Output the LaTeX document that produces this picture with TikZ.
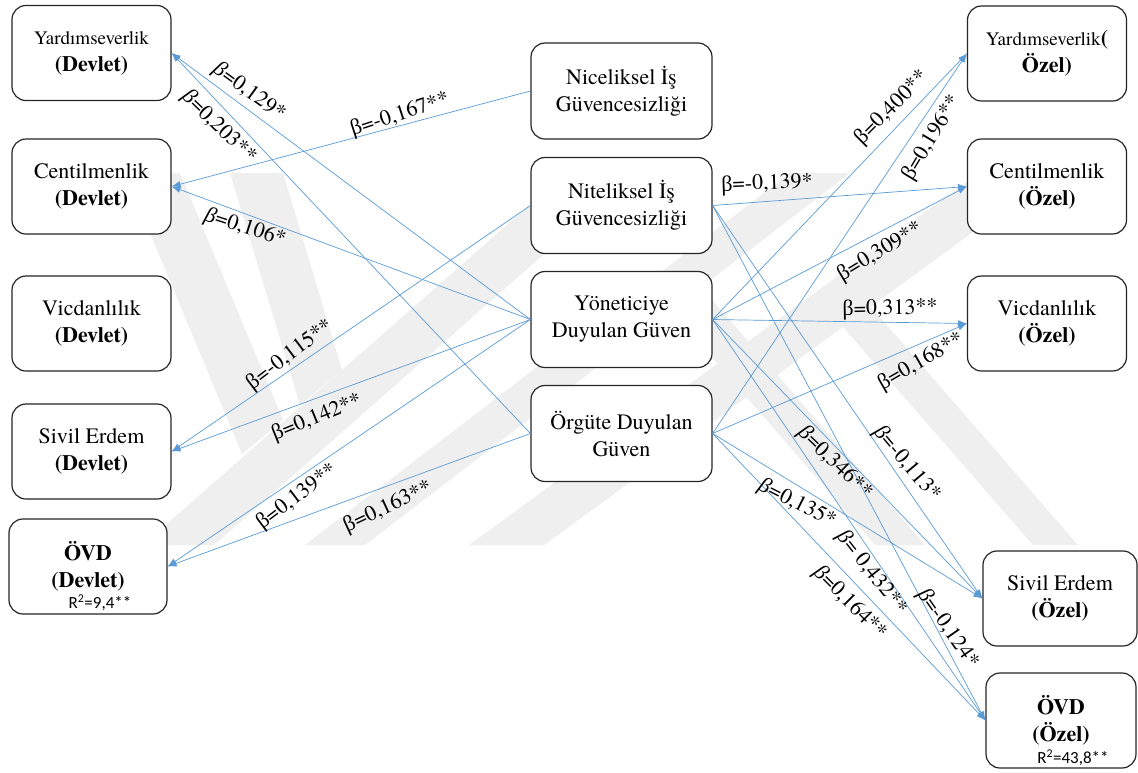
\documentclass[tikz,border=0pt]{standalone}
\usepackage{fontspec}
\setmainfont{TeX Gyre Termes}
\newfontfamily\grkfamily{Liberation Serif}
\newfontfamily\rsqfamily{Carlito}
\usetikzlibrary{arrows.meta}
\definecolor{linkblue}{RGB}{91,155,213}
\definecolor{wmgray}{RGB}{239,239,239}
\newcommand{\betaup}{{\grkfamily β}}
\newcommand{\betait}{{\grkfamily\itshape β}}
\begin{document}
\begin{tikzpicture}[x=1pt,y=-1pt,
  box/.style={draw=black!85, line width=1.2pt, rounded corners=14pt, fill=white,
    minimum width=159pt, minimum height=95pt, align=center, inner sep=0pt,
    font=\rmfamily\fontsize{22}{27}\selectfont},
  midbox/.style={box, minimum width=181pt, minimum height=96pt},
  link/.style={draw=linkblue, line width=0.7pt, -{Latex[length=9pt,width=6.5pt]}},
  coef/.style={font=\rmfamily\fontsize{22}{26}\selectfont, inner sep=0pt},
  rsq/.style={font=\rsqfamily\fontsize{17}{20}\selectfont, inner sep=0pt},
  wm/.style={fill=wmgray, draw=none}]

\useasboundingbox (0,0) rectangle (1138,772);
\fill[white] (0,0) rectangle (1138,772);

% faint background emblem
\fill[wm] (230,173) -- (283,173) -- (342,370) -- (300,405) -- cycle;
\fill[wm] (125,173) -- (180,173) -- (283,420) -- (242,454) -- cycle;
\fill[wm] (143,545) -- (214,545) -- (636,173) -- (566,173) -- cycle;
\fill[wm] (305,545) -- (365,545) -- (850,173) -- (790,173) -- cycle;
\fill[wm] (469,545) -- (544,545) -- (1054,173) -- (979,173) -- cycle;
\fill[wm] (843,327) -- (871,307) -- (1078,545) -- (1033,545) -- cycle;
\fill[wm] (671,310) -- (701,287) -- (925,545) -- (875,545) -- cycle;

% public sector outcomes
\node[box] (yardD) at (91.5,53) {{\fontsize{19}{23}\selectfont Yardımseverlik}\\\textbf{(Devlet)}};
\node[box] (centD) at (91.5,186.5) {Centilmenlik\\\textbf{(Devlet)}};
\node[box] (vicD) at (91.5,323.5) {Vicdanlılık\\\textbf{(Devlet)}};
\node[box] (sivD) at (91.5,451.5) {Sivil Erdem\\\textbf{(Devlet)}};
\node[box, minimum width=158pt] (ovdD) at (88,566.5) {\textbf{ÖVD}\\\textbf{(Devlet)}};
\node[rsq] (r2D) at (100,603) {R\textsuperscript{2}=9,4**};

% predictors
\node[midbox] (nicel) at (621.5,91) {Niceliksel İş\\Güvencesizliği};
\node[midbox] (nitel) at (621.5,205.5) {Niteliksel İş\\Güvencesizliği};
\node[midbox] (yon) at (621.5,319.5) {Yöneticiye\\Duyulan Güven};
\node[midbox] (org) at (621.5,433.5) {Örgüte Duyulan\\Güven};

% private sector outcomes
\node[box] (yardO) at (1047,53.5) {{\fontsize{19}{23}\selectfont Yardımseverlik}\textbf{(}\\\textbf{Özel)}};
\node[box] (centO) at (1047,186.5) {Centilmenlik\\\textbf{(Özel)}};
\node[box] (vicO) at (1047,323.5) {Vicdanlılık\\\textbf{(Özel)}};
\node[box, minimum width=154pt] (sivO) at (1060,598.5) {Sivil Erdem\\\textbf{(Özel)}};
\node[box, minimum width=150pt] (ovdO) at (1061,720.5) {\textbf{ÖVD}\\\textbf{(Özel)}};
\node[rsq] (r2O) at (1073,758) {R\textsuperscript{2}=43,8**};

% paths to the public sector
\draw[link] (yon.west) -- (yardD.east);
\draw[link] (org.west) -- (yardD.east);
\draw[link] (nicel.west) -- (centD.east);
\draw[link] (yon.west) -- (centD.east);
\draw[link] (nitel.west) -- (sivD.east);
\draw[link] (yon.west) -- (sivD.east);
\draw[link] (yon.west) -- (ovdD.east);
\draw[link] (org.west) -- (ovdD.east);

% paths to the private sector
\draw[link] (yon.east) -- (yardO.west);
\draw[link] (org.east) -- (yardO.west);
\draw[link] (nitel.east) -- (centO.west);
\draw[link] (yon.east) -- (centO.west);
\draw[link] (yon.east) -- (vicO.west);
\draw[link] (org.east) -- (vicO.west);
\draw[link] (nitel.east) -- (sivO.west);
\draw[link] (yon.east) -- (sivO.west);
\draw[link] (org.east) -- (sivO.west);
\draw[link] (nitel.east) -- (ovdO.west);
\draw[link] (yon.east) -- (ovdO.west);
\draw[link] (org.east) -- (ovdO.west);

% coefficients, public side
\node[coef, rotate=-36] (c1) at (249,92) {\betait=0,129*};
\node[coef, rotate=-44] (c2) at (219,127) {\betait=0,203**};
\node[coef, rotate=18] (c3) at (400,115) {\betaup=-0,167**};
\node[coef, rotate=-18] (c4) at (245,228) {\betait=0,106*};
\node[coef, rotate=37] (c5) at (290,355) {\betaup=-0,115**};
\node[coef, rotate=22] (c6) at (317,418) {\betaup=0,142**};
\node[coef, rotate=37] (c7) at (297,497) {\betaup=0,139**};
\node[coef, rotate=25] (c8) at (388,507) {\betaup=0,163**};

% coefficients, private side
\node[coef, rotate=2] (c9) at (767,184) {\betaup=-0,139*};
\node[coef, rotate=45] (c10) at (892,108) {\betaup=0,400**};
\node[coef, rotate=59] (c11) at (932,138) {\betaup=0,196**};
\node[coef, rotate=31] (c12) at (880,252) {\betaup=0,309**};
\node[coef, rotate=1] (c13) at (890,309) {\betaup=0,313**};
\node[coef, rotate=30] (c14) at (921,362) {\betaup=0,168**};
\node[coef, rotate=-44] (c15) at (835,463) {\betait=0,346**};
\node[coef, rotate=-50] (c16) at (907,464) {\betait=-0,113*};
\node[coef, rotate=-27] (c17) at (797,504) {\betait=0,135*};
\node[coef, rotate=-52] (c18) at (872,573) {\betait= 0,432**};
\node[coef, rotate=-55] (c19) at (948,629) {\betait=-0,124*};
\node[coef, rotate=-45] (c20) at (850,603) {\betait=0,164**};
\end{tikzpicture}
\end{document}
